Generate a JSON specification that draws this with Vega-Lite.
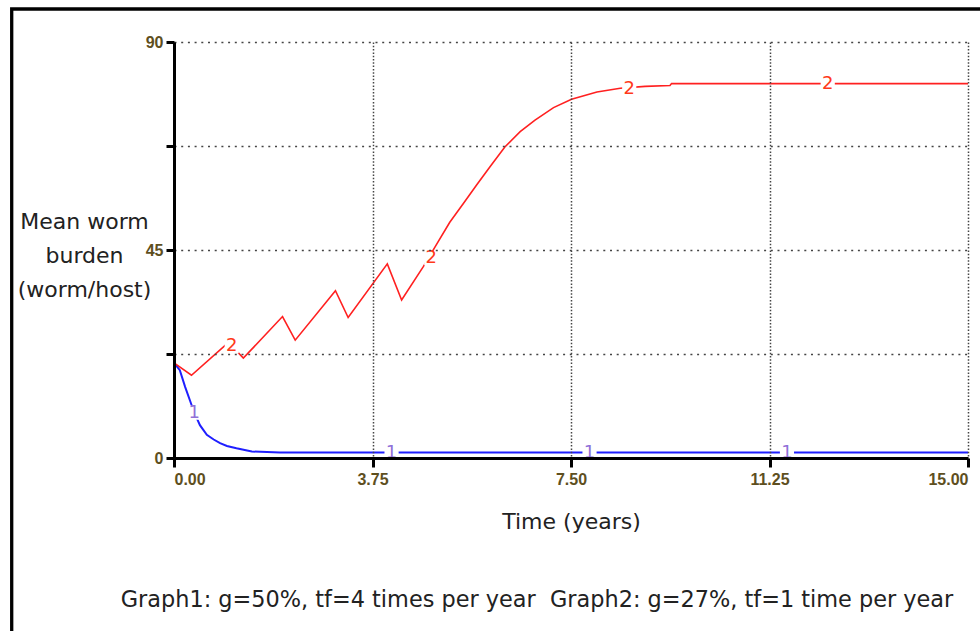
{
  "$schema": "https://vega.github.io/schema/vega-lite/v6.json",
  "width": 794,
  "height": 416,
  "autosize": {"type": "none"},
  "padding": {"left": 174, "top": 42, "right": 12, "bottom": 173},
  "background": "white",
  "title": {
    "text": "Graph1: g=50%, tf=4 times per year \u00a0Graph2: g=27%, tf=1 time per year",
    "orient": "bottom",
    "anchor": "middle",
    "dx": -34,
    "offset": -56,
    "font": "DejaVu Sans",
    "fontSize": 22.4,
    "fontWeight": "normal",
    "color": "#222222"
  },
  "datasets": {
    "curves": [
      {"series": "1", "t": 0, "v": 20.6},
      {"series": "1", "t": 0.11, "v": 19.0},
      {"series": "1", "t": 0.21, "v": 15.4},
      {"series": "1", "t": 0.30, "v": 12.5},
      {"series": "1", "t": 0.38, "v": 9.9},
      {"series": "1", "t": 0.49, "v": 7.1},
      {"series": "1", "t": 0.62, "v": 5.0},
      {"series": "1", "t": 0.75, "v": 4.0},
      {"series": "1", "t": 0.87, "v": 3.2},
      {"series": "1", "t": 1.0, "v": 2.6},
      {"series": "1", "t": 1.18, "v": 2.1},
      {"series": "1", "t": 1.47, "v": 1.4},
      {"series": "1", "t": 2.0, "v": 1.2},
      {"series": "1", "t": 15, "v": 1.2},
      {"series": "2", "t": 0, "v": 20.6},
      {"series": "2", "t": 0.33, "v": 17.9},
      {"series": "2", "t": 1.03, "v": 25.0},
      {"series": "2", "t": 1.31, "v": 21.6},
      {"series": "2", "t": 2.05, "v": 30.6},
      {"series": "2", "t": 2.29, "v": 25.5},
      {"series": "2", "t": 3.05, "v": 36.2},
      {"series": "2", "t": 3.29, "v": 30.4},
      {"series": "2", "t": 4.03, "v": 42.0},
      {"series": "2", "t": 4.30, "v": 34.2},
      {"series": "2", "t": 4.71, "v": 41.4},
      {"series": "2", "t": 4.96, "v": 46.2},
      {"series": "2", "t": 5.21, "v": 51.0},
      {"series": "2", "t": 5.47, "v": 55.1},
      {"series": "2", "t": 5.72, "v": 59.1},
      {"series": "2", "t": 5.97, "v": 63.0},
      {"series": "2", "t": 6.25, "v": 67.3},
      {"series": "2", "t": 6.54, "v": 70.6},
      {"series": "2", "t": 6.82, "v": 73.1},
      {"series": "2", "t": 7.17, "v": 75.8},
      {"series": "2", "t": 7.51, "v": 77.6},
      {"series": "2", "t": 7.99, "v": 79.2},
      {"series": "2", "t": 8.43, "v": 80.0},
      {"series": "2", "t": 8.9, "v": 80.4},
      {"series": "2", "t": 9.37, "v": 80.6},
      {"series": "2", "t": 9.4, "v": 81.0},
      {"series": "2", "t": 15, "v": 81.0}
    ],
    "labels": [
      {"series": "1", "t": 0.38, "v": 9.8, "label": "1"},
      {"series": "1", "t": 4.11, "v": 1.1, "label": "1"},
      {"series": "1", "t": 7.85, "v": 1.1, "label": "1"},
      {"series": "1", "t": 11.58, "v": 1.1, "label": "1"},
      {"series": "2", "t": 1.09, "v": 24.2, "label": "2"},
      {"series": "2", "t": 4.86, "v": 43.2, "label": "2"},
      {"series": "2", "t": 8.6, "v": 79.8, "label": "2"},
      {"series": "2", "t": 12.35, "v": 80.9, "label": "2"}
    ]
  },
  "layer": [
    {
      "data": {"name": "curves"},
      "transform": [{"filter": "datum.series == '1'"}],
      "mark": {"type": "line", "color": "#1f1fff", "strokeWidth": 2, "interpolate": "linear"},
      "encoding": {
        "x": {
          "field": "t", "type": "quantitative",
          "scale": {"domain": [0, 15], "nice": false, "zero": false},
          "axis": {
            "values": [0, 3.75, 7.5, 11.25, 15],
            "format": ".2f",
            "labelFlush": true,
            "labelFont": "Liberation Sans",
            "labelFontSize": 16,
            "labelFontWeight": "bold",
            "labelColor": "#5e4f1e",
            "labelPadding": 4,
            "tickSize": 9,
            "tickWidth": 3,
            "tickColor": "black",
            "domainColor": "black",
            "domainWidth": 3,
            "grid": true,
            "gridColor": "#444444",
            "gridDash": [1.5, 1.8],
            "gridWidth": 1.5,
            "title": "Time (years)",
            "titleFont": "DejaVu Sans",
            "titleFontSize": 22,
            "titleFontWeight": "normal",
            "titleColor": "#222222",
            "titleX": 397,
            "titleY": 70,
            "titleAlign": "center",
            "titleBaseline": "alphabetic",
            "zindex": 1
          }
        },
        "y": {
          "field": "v", "type": "quantitative",
          "scale": {"domain": [0, 90], "nice": false, "zero": false},
          "axis": {
            "values": [0, 22.5, 45, 67.5, 90],
            "labelExpr": "datum.value % 45 == 0 ? format(datum.value, 'd') : ''",
            "labelFlush": false,
            "labelFont": "Liberation Sans",
            "labelFontSize": 16,
            "labelFontWeight": "bold",
            "labelColor": "#5e4f1e",
            "labelPadding": 3,
            "tickSize": 8,
            "tickWidth": 3,
            "tickColor": "black",
            "domainColor": "black",
            "domainWidth": 3,
            "grid": true,
            "gridColor": "#444444",
            "gridDash": [2, 4.7],
            "gridWidth": 1.5,
            "title": ["Mean worm", "burden", "(worm/host)"],
            "titleFont": "DejaVu Sans",
            "titleFontSize": 22,
            "titleFontWeight": "normal",
            "titleColor": "#222222",
            "titleAngle": 0,
            "titleX": -90,
            "titleY": 186,
            "titleAlign": "center",
            "titleBaseline": "alphabetic",
            "titleLineHeight": 34,
            "zindex": 1
          }
        }
      }
    },
    {
      "data": {"name": "curves"},
      "transform": [{"filter": "datum.series == '2'"}],
      "mark": {"type": "line", "color": "#ff2020", "strokeWidth": 1.6, "interpolate": "linear"},
      "encoding": {
        "x": {"field": "t", "type": "quantitative", "scale": {"domain": [0, 15], "nice": false, "zero": false}},
        "y": {"field": "v", "type": "quantitative", "scale": {"domain": [0, 90], "nice": false, "zero": false}}
      }
    },
    {
      "data": {"name": "labels"},
      "mark": {"type": "point", "shape": "square", "filled": true, "color": "white", "opacity": 1, "size": 200},
      "encoding": {
        "x": {"field": "t", "type": "quantitative", "scale": {"domain": [0, 15], "nice": false, "zero": false}},
        "y": {"field": "v", "type": "quantitative", "scale": {"domain": [0, 90], "nice": false, "zero": false}}
      }
    },
    {
      "data": {"name": "labels"},
      "transform": [{"filter": "datum.series == '1'"}],
      "mark": {"type": "text", "font": "DejaVu Sans", "fontSize": 18, "color": "#9070d8", "baseline": "middle", "align": "center"},
      "encoding": {
        "x": {"field": "t", "type": "quantitative", "scale": {"domain": [0, 15], "nice": false, "zero": false}},
        "y": {"field": "v", "type": "quantitative", "scale": {"domain": [0, 90], "nice": false, "zero": false}},
        "text": {"field": "label"}
      }
    },
    {
      "data": {"name": "labels"},
      "transform": [{"filter": "datum.series == '2'"}],
      "mark": {"type": "text", "font": "DejaVu Sans", "fontSize": 18, "color": "#ff3a1a", "baseline": "middle", "align": "center"},
      "encoding": {
        "x": {"field": "t", "type": "quantitative", "scale": {"domain": [0, 15], "nice": false, "zero": false}},
        "y": {"field": "v", "type": "quantitative", "scale": {"domain": [0, 90], "nice": false, "zero": false}},
        "text": {"field": "label"}
      }
    },
    {
      "data": {"values": [{}]},
      "mark": {"type": "rect", "filled": false, "stroke": "black", "strokeWidth": 3.3, "clip": false},
      "encoding": {
        "x": {"datum": -3.066, "type": "quantitative", "scale": {"domain": [0, 15], "nice": false, "zero": false}},
        "x2": {"datum": 17},
        "y": {"datum": 97.14, "type": "quantitative", "scale": {"domain": [0, 90], "nice": false, "zero": false}},
        "y2": {"datum": -40}
      }
    }
  ],
  "config": {
    "view": {"stroke": null}
  }
}
